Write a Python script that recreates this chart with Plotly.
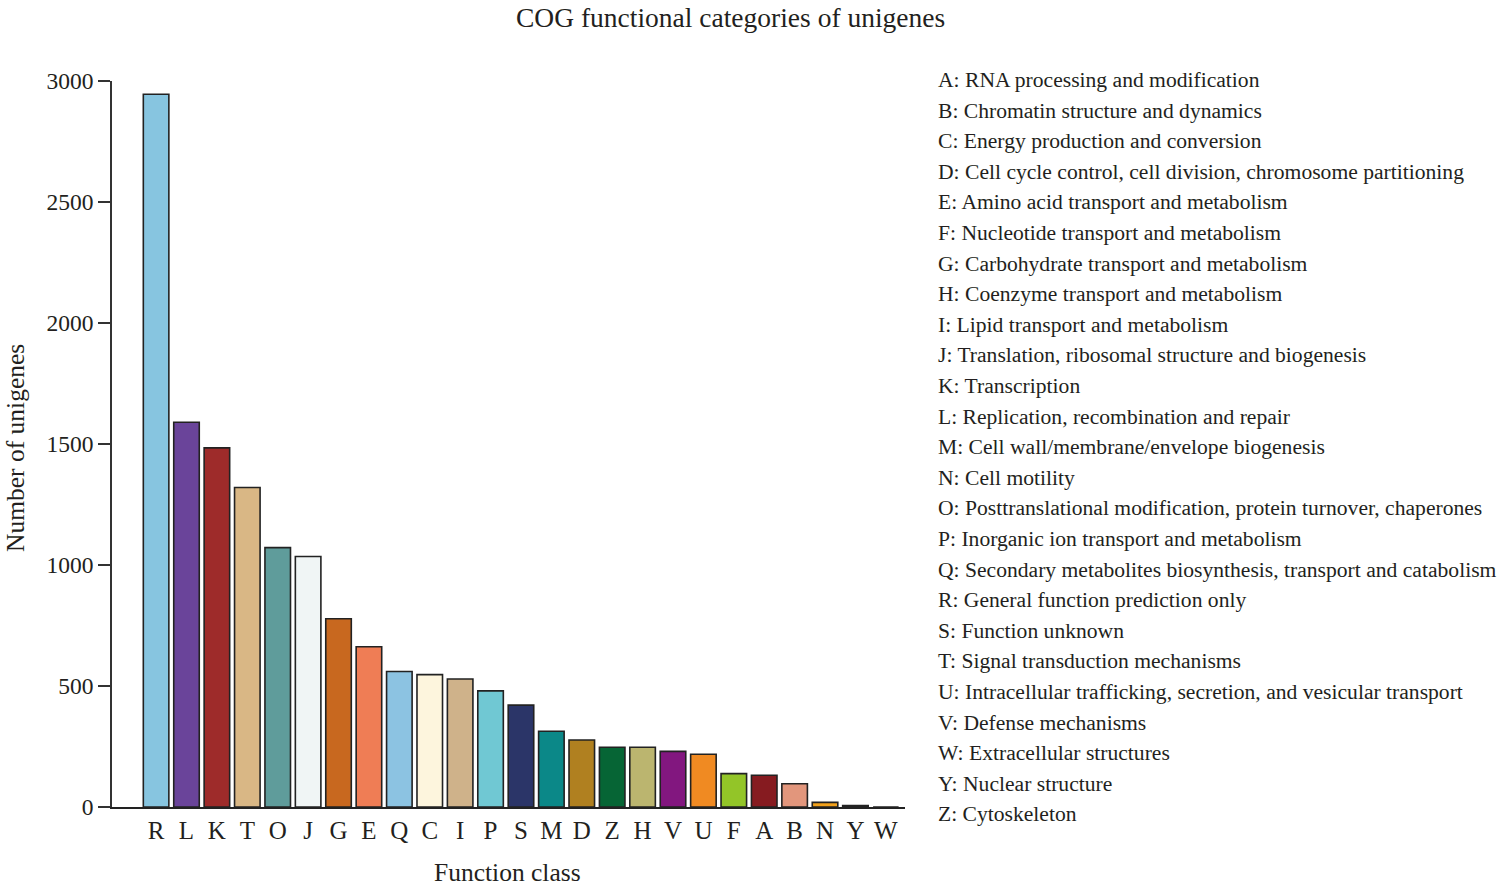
import plotly.graph_objects as go

# ---- data ----
categories = ["R", "L", "K", "T", "O", "J", "G", "E", "Q", "C", "I", "P", "S",
              "M", "D", "Z", "H", "V", "U", "F", "A", "B", "N", "Y", "W"]
counts = [2945, 1590, 1484, 1320, 1072, 1035, 778, 662, 560, 547, 529, 480, 421,
          313, 277, 247, 247, 230, 218, 138, 131, 96, 19, 6, 0]
bar_colors = ["#87C5E0", "#6A449A", "#9E2B2A", "#D9B785", "#5F9C9B", "#F0F5F5",
              "#C8681F", "#EF7D55", "#8CC3E2", "#FDF5DD", "#CFB28A", "#70C8D3",
              "#2B3568", "#0B8888", "#B08020", "#066535", "#BBB56F", "#82177F",
              "#F08A22", "#93C528", "#861B20", "#E2967C", "#F3A21C", "#222222",
              "#FFFFFF"]
legend_labels = [
    "A: RNA processing and modification",
    "B: Chromatin structure and dynamics",
    "C: Energy production and conversion",
    "D: Cell cycle control, cell division, chromosome partitioning",
    "E: Amino acid transport and metabolism",
    "F: Nucleotide transport and metabolism",
    "G: Carbohydrate transport and metabolism",
    "H: Coenzyme transport and metabolism",
    "I: Lipid transport and metabolism",
    "J: Translation, ribosomal structure and biogenesis",
    "K: Transcription",
    "L: Replication, recombination and repair",
    "M: Cell wall/membrane/envelope biogenesis",
    "N: Cell motility",
    "O: Posttranslational modification, protein turnover, chaperones",
    "P: Inorganic ion transport and metabolism",
    "Q: Secondary metabolites biosynthesis, transport and catabolism",
    "R: General function prediction only",
    "S: Function unknown",
    "T: Signal transduction mechanisms",
    "U: Intracellular trafficking, secretion, and vesicular transport",
    "V: Defense mechanisms",
    "W: Extracellular structures",
    "Y: Nuclear structure",
    "Z: Cytoskeleton",
]
y_ticks = [0, 500, 1000, 1500, 2000, 2500, 3000]
title_text = "COG functional categories of unigenes"
x_title = "Function class"
y_title = "Number of unigenes"

# ---- layout geometry (pixels) ----
W, H = 1500, 886
L, R, T, B = 112, 905, 81, 807
pw, ph = R - L, B - T
FONT = "Liberation Serif, Times New Roman, serif"
TXT = "#231F20"


def px(x):
    return (x - L) / pw


def py(y):
    return (B - y) / ph


fig = go.Figure()
fig.add_trace(go.Bar(
    x=categories, y=counts,
    marker=dict(color=bar_colors, line=dict(color="#222222", width=1.6)),
    width=0.84, showlegend=False,
))

annotations = []
annotations.append(dict(text=title_text, x=px(730), y=py(17), xref="paper", yref="paper",
                        showarrow=False, xanchor="center", yanchor="middle",
                        font=dict(family=FONT, size=27.5, color=TXT)))
annotations.append(dict(text=x_title, x=px(507), y=py(872), xref="paper", yref="paper",
                        showarrow=False, xanchor="center", yanchor="middle",
                        font=dict(family=FONT, size=25.5, color=TXT)))
annotations.append(dict(text=y_title, x=px(15), y=py(448), xref="paper", yref="paper",
                        showarrow=False, xanchor="center", yanchor="middle", textangle=-90,
                        font=dict(family=FONT, size=25.5, color=TXT)))
for i, lab in enumerate(legend_labels):
    annotations.append(dict(text=lab, x=px(936), y=py(80 + i * 30.6), xref="paper", yref="paper",
                            showarrow=False, xanchor="left", yanchor="middle",
                            font=dict(family=FONT, size=21.6, color=TXT)))

fig.update_layout(
    width=W, height=H,
    margin=dict(l=L, r=W - R, t=T, b=H - B, pad=0),
    paper_bgcolor="white", plot_bgcolor="white",
    font=dict(family=FONT, color=TXT),
    annotations=annotations,
    bargap=0.16,
)
fig.update_xaxes(
    type="category", range=[-1.45, 24.63],
    showline=True, linecolor="#222222", linewidth=1.6,
    ticks="", ticklen=0,
    tickfont=dict(family=FONT, size=25, color=TXT),
    showgrid=False, zeroline=False,
)
fig.update_yaxes(
    range=[0, 3000], tickvals=y_ticks,
    showline=True, linecolor="#333333", linewidth=1.6,
    ticks="outside", ticklen=12, tickwidth=1.6, tickcolor="#333333",
    tickfont=dict(family=FONT, size=23.5, color=TXT),
    showgrid=False, zeroline=False,
)

fig.write_html("out.html", config={"displayModeBar": False},
               post_script="document.body.style.margin='0';")
